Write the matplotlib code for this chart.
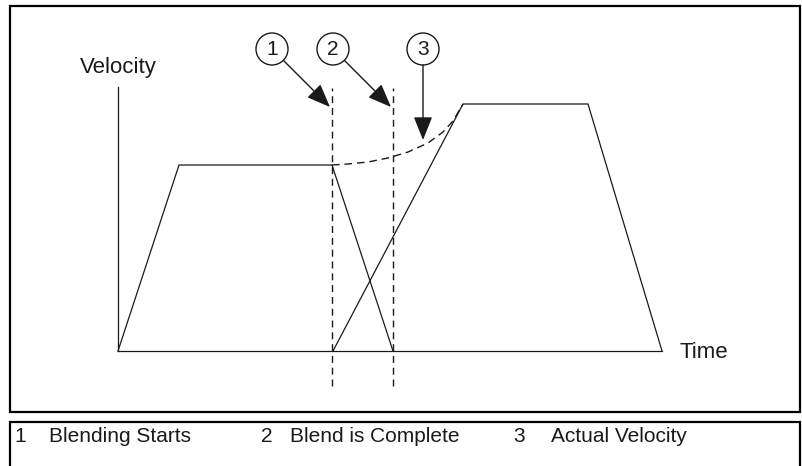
import matplotlib
matplotlib.use("Agg")
import matplotlib.pyplot as plt
from matplotlib.patches import Circle, Rectangle

plt.rcParams['font.family'] = ['Liberation Sans', 'DejaVu Sans']

# Velocity profiles (time units, velocity units)
move1_t = [0.0, 6.1, 21.4, 27.5]
move1_v = [0.0, 18.6, 18.6, 0.0]
move2_t = [21.5, 34.5, 47.0, 54.4]
move2_v = [0.0, 24.7, 24.7, 0.0]

# Blended (actual) velocity between the two moves
blend_t = [21.4, 23.0, 25.0, 27.0, 29.0, 31.0, 32.5, 33.5, 34.5]
blend_v = [18.6, 18.7, 18.9, 19.3, 19.9, 20.8, 21.9, 23.0, 24.7]

blend_start_t = 21.45
blend_end_t = 27.5
time_end = 54.4
velocity_axis_top = 26.4

callout_numbers = ["1", "2", "3"]
callout_texts = ["Blending Starts", "Blend is Complete", "Actual Velocity"]

W, H = 802, 466
fig = plt.figure(figsize=(W / 100, H / 100), dpi=100)
ax = fig.add_axes([0, 0, 1, 1])
ax.set_xlim(-11.8, 68.4)
ax.set_ylim(-11.5, 35.1)
ax.set_aspect('equal')
ax.axis('off')

lc = '#1a1a1a'
lw = 0.9

# axes of the sketch
ax.plot([0, 0], [0, velocity_axis_top], color=lc, lw=lw)
ax.plot([0, time_end], [0, 0], color=lc, lw=lw)

# the two moves
ax.plot(move1_t, move1_v, color=lc, lw=lw)
ax.plot(move2_t, move2_v, color=lc, lw=lw)

# actual velocity during blending
ax.plot(blend_t, blend_v, color=lc, lw=1.0, linestyle=(0, (5.5, 3.5)))

# blend start / end markers
for t in (blend_start_t, blend_end_t):
    ax.plot([t, t], [-3.5, 26.3], color=lc, lw=1.0, linestyle=(0, (5, 3.5)))

ax.text(-3.8, 28.4, "Velocity", fontsize=16, ha='left', va='center', color=lc)
ax.text(56.2, -0.1, "Time", fontsize=16, ha='left', va='center', color=lc)

# numbered callouts
callout_pos = [(15.4, 30.2), (21.5, 30.2), (30.5, 30.2)]
arrow_tips = [(21.2, 24.4), (27.3, 24.4), (30.5, 21.1)]
r = 1.6
arrow_style = '-|>,head_length=1.45,head_width=0.58'
for num, (cx, cy), (tx, ty) in zip(callout_numbers, callout_pos, arrow_tips):
    ax.add_patch(Circle((cx, cy), r, fill=False, ec=lc, lw=1.0))
    ax.text(cx, cy - 0.05, num, fontsize=15, ha='center', va='center', color=lc)
    dx, dy = tx - cx, ty - cy
    d = (dx ** 2 + dy ** 2) ** 0.5
    sx, sy = cx + dx / d * r, cy + dy / d * r
    ax.annotate('', xy=(tx, ty), xytext=(sx, sy),
                arrowprops=dict(arrowstyle=arrow_style, mutation_scale=10,
                                color=lc, lw=1.0, shrinkA=0, shrinkB=0))

# frames
ax.add_patch(Rectangle((-10.8, -6.1), 79.0, 40.6, fill=False, ec='black', lw=1.6))
ax.add_patch(Rectangle((-10.8, -12.5), 79.0, 5.4, fill=False, ec='black', lw=1.6,
                       clip_on=False))

# key beneath the sketch
num_x = [-10.35, 14.3, 39.5]
text_x = [-6.9, 17.2, 43.3]
for n, s, nx, tx in zip(callout_numbers, callout_texts, num_x, text_x):
    ax.text(nx, -8.6, n, fontsize=15, ha='left', va='center', color=lc)
    ax.text(tx, -8.6, s, fontsize=15, ha='left', va='center', color=lc)

fig.savefig("out.png", dpi=100)
